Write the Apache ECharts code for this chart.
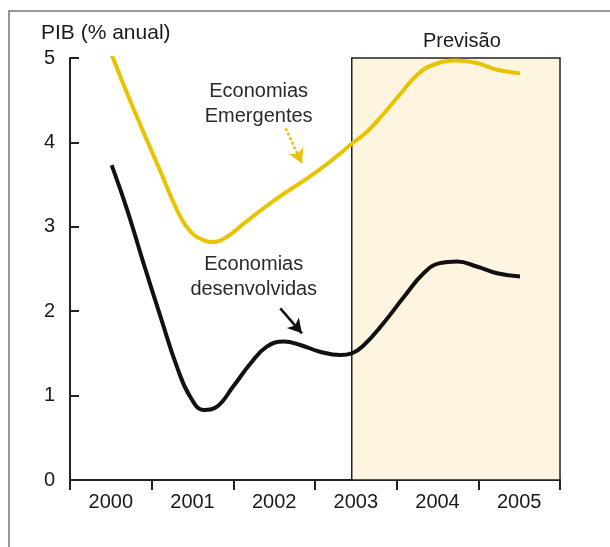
<!DOCTYPE html>
<html><head><meta charset="utf-8">
<script src="https://cdn.jsdelivr.net/npm/echarts@6/dist/echarts.min.js"></script>
<style>html,body{margin:0;padding:0;background:#fff}#c{width:610px;height:547px}</style>
</head><body><div id="c"></div>
<script>
const categories = ['2000', '2001', '2002', '2003', '2004', '2005'];
const yTicks = [0, 1, 2, 3, 4, 5];
// Economias Emergentes [year, % anual]
const emergentes = [
  [2000.01, 5.04], [2000.20, 4.58], [2000.40, 4.12], [2000.61, 3.65], [2000.81, 3.20],
  [2000.97, 2.95], [2001.14, 2.84], [2001.26, 2.82], [2001.42, 2.88], [2001.63, 3.04],
  [2001.83, 3.19], [2002.07, 3.36], [2002.32, 3.52], [2002.56, 3.68], [2002.81, 3.87],
  [2002.93, 3.97], [2003.14, 4.13], [2003.34, 4.34], [2003.55, 4.58], [2003.75, 4.80],
  [2003.95, 4.92], [2004.24, 4.97], [2004.48, 4.94], [2004.73, 4.86], [2005.01, 4.82]
];
// Economias desenvolvidas [year, % anual]
const desenvolvidas = [
  [2000.01, 3.73], [2000.20, 3.20], [2000.40, 2.57], [2000.61, 1.93], [2000.81, 1.34],
  [2000.97, 0.99], [2001.14, 0.83], [2001.30, 0.87], [2001.50, 1.11], [2001.71, 1.38],
  [2001.91, 1.58], [2002.12, 1.64], [2002.32, 1.60], [2002.56, 1.52], [2002.81, 1.48],
  [2002.95, 1.50], [2003.10, 1.60], [2003.34, 1.86], [2003.59, 2.17], [2003.83, 2.45],
  [2004.03, 2.57], [2004.24, 2.59], [2004.48, 2.53], [2004.73, 2.45], [2005.01, 2.41]
];
const forecastStart = 2002.95;
const forecastEnd = 2005.5;
const labelEmergentes = [2001.81, 4.455];
const labelDesenvolvidas = [2001.75, 2.40];
const arrowEmergentes = [[2002.14, 4.167], [2002.34, 3.752]];
const arrowDesenvolvidas = [[2002.075, 2.034], [2002.34, 1.738]];

const FONT = "'Liberation Sans', Arial, Helvetica, sans-serif";
const YELLOW = '#e9c300';
const chart = echarts.init(document.getElementById('c'), null, {renderer: 'canvas'});
chart.setOption({
  animation: false,
  backgroundColor: '#fff',
  textStyle: {fontFamily: FONT},
  title: {
    text: 'PIB (% anual)', left: 41, top: 23, padding: 0,
    textStyle: {fontFamily: FONT, fontSize: 21, fontWeight: 'normal', color: '#1a1a1a'}
  },
  graphic: [{
    type: 'rect', shape: {x: 9, y: 11, width: 800, height: 800},
    style: {fill: 'none', stroke: '#777', lineWidth: 1.5}, silent: true, z: -1
  }],
  grid: {left: 70, right: 50, top: 58, bottom: 67},
  xAxis: [{
    type: 'category', data: categories, boundaryGap: true,
    axisLine: {lineStyle: {color: '#222', width: 2}},
    axisTick: {show: true, inside: false, length: 10, alignWithLabel: false, lineStyle: {color: '#222', width: 2}},
    axisLabel: {fontSize: 20, color: '#1a1a1a', margin: 12, fontFamily: FONT},
    splitLine: {show: false}
  }, {
    type: 'value', min: 1999.5, max: 2005.5, show: false
  }],
  yAxis: {
    type: 'value', min: 0, max: 5, interval: 1,
    axisLine: {show: true, lineStyle: {color: '#222', width: 2}},
    axisTick: {show: true, inside: true, length: 9, lineStyle: {color: '#222', width: 2}},
    axisLabel: {fontSize: 20, color: '#1a1a1a', margin: 15, fontFamily: FONT,
      formatter: v => yTicks.indexOf(v) >= 0 ? String(v) : ''},
    splitLine: {show: false}
  },
  series: [{
    name: 'Previsão', type: 'line', xAxisIndex: 1, data: [], silent: true,
    markArea: {
      silent: true,
      itemStyle: {color: '#fef5e0', borderColor: '#222', borderWidth: 1.5},
      label: {show: true, position: 'top', distance: 6, offset: [6, 0], fontSize: 20, color: '#1a1a1a', fontFamily: FONT},
      data: [[{name: 'Previsão', coord: [forecastStart, 0]}, {coord: [forecastEnd, 5]}]]
    },
    z: 1
  }, {
    name: 'Economias Emergentes', type: 'line', xAxisIndex: 1, data: emergentes,
    smooth: 0.45, showSymbol: false, lineStyle: {color: YELLOW, width: 4}, z: 3,
    markPoint: {
      symbol: 'circle', symbolSize: 0, silent: true,
      label: {show: true, position: 'inside', fontSize: 20, lineHeight: 25, color: '#2a2a2a', fontFamily: FONT,
        formatter: 'Economias\nEmergentes'},
      data: [{coord: labelEmergentes}]
    },
    markLine: {
      silent: true, symbol: ['none', 'arrow'], symbolSize: [12, 14],
      lineStyle: {color: YELLOW, width: 2.5, type: [3, 2]}, label: {show: false},
      data: [[{coord: arrowEmergentes[0]}, {coord: arrowEmergentes[1]}]]
    }
  }, {
    name: 'Economias desenvolvidas', type: 'line', xAxisIndex: 1, data: desenvolvidas,
    smooth: 0.45, showSymbol: false, lineStyle: {color: '#111', width: 4}, z: 3,
    markPoint: {
      symbol: 'circle', symbolSize: 0, silent: true,
      label: {show: true, position: 'inside', fontSize: 20, lineHeight: 25, color: '#2a2a2a', fontFamily: FONT,
        formatter: 'Economias\ndesenvolvidas'},
      data: [{coord: labelDesenvolvidas}]
    },
    markLine: {
      silent: true, symbol: ['none', 'arrow'], symbolSize: [12, 14],
      lineStyle: {color: '#111', width: 2.5, type: 'solid'}, label: {show: false},
      data: [[{coord: arrowDesenvolvidas[0]}, {coord: arrowDesenvolvidas[1]}]]
    }
  }]
});
</script>
</body></html>
